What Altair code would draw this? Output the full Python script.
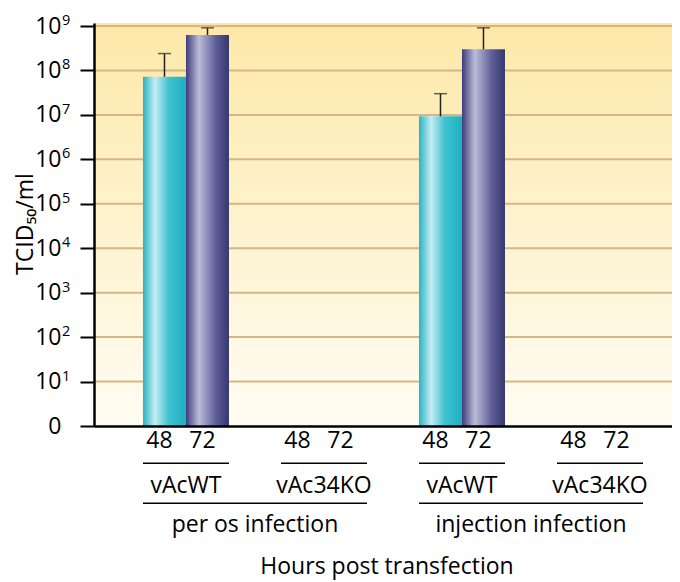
import altair as alt
import pandas as pd

# ---- data ----
routes = ["per os infection"] * 4 + ["injection infection"] * 4
viruses = ["vAcWT", "vAcWT", "vAc34KO", "vAc34KO"] * 2
hours = ["48", "72"] * 4
titer = [7.2e7, 6.3e8, 0, 0, 9.3e6, 3.0e8, 0, 0]          # TCID50/ml (0 = not detected)
upper = [2.4e8, 9.1e8, 0, 0, 3.0e7, 9.1e8, 0, 0]          # mean + SD
tick_exps = [0, 1, 2, 3, 4, 5, 6, 7, 8, 9]
route_order = ["per os infection", "injection infection"]
group_order = ["per os infection vAcWT", "per os infection vAc34KO",
               "injection infection vAcWT", "injection infection vAc34KO"]

df = pd.DataFrame({"route": routes, "virus": viruses, "hour": hours,
                   "titer": titer, "upper": upper})
df["group"] = df["route"] + " " + df["virus"]

W, H = 578, 403
YMAX = 9.0675
FONT = "Open Sans"
FS = 23

gscale = alt.Scale(type="band", domain=group_order, paddingInner=0.3768, paddingOuter=0.2826, align=0.628)
rscale = alt.Scale(type="band", domain=route_order, paddingInner=0.1884, paddingOuter=0.1413, align=0.628)
oscale = alt.Scale(type="band", domain=["48", "72"], paddingInner=0, paddingOuter=0)
yscale = alt.Scale(domain=[0, YMAX], nice=False, zero=False)

base = alt.Chart(df).transform_calculate(
    ly="datum.titer > 0 ? log(datum.titer)/LN10 : 0",
    lu="datum.upper > 0 ? log(datum.upper)/LN10 : 0",
)

one = alt.Chart(pd.DataFrame({"k": [1]}))

bg = one.mark_rect(
    color=alt.Gradient(gradient="linear", x1=0, y1=0, x2=0, y2=1,
                       stops=[alt.GradientStop(offset=0, color="#fde8a8"),
                              alt.GradientStop(offset=0.5, color="#fef3cf"),
                              alt.GradientStop(offset=1, color="#fffcf2")])
).encode(x=alt.value(0), x2=alt.value(W), y=alt.value(0), y2=alt.value(H))

yaxis = alt.Axis(values=tick_exps, grid=False, domainColor="black", domainWidth=2.5,
                 tickColor="black", tickWidth=2, tickSize=14, labelFontSize=FS,
                 labelFont=FONT, labelColor="black", labelPadding=19, title=None,
                 zindex=1,
                 labelExpr="datum.value == 0 ? '0' : '10'")

ticks_df = pd.DataFrame({"e": tick_exps})

grid = alt.Chart(ticks_df).transform_filter("datum.e > 0").mark_rule(
    color="#d8b582", strokeWidth=2
).encode(y=alt.Y("e:Q", scale=yscale, axis=yaxis), x=alt.value(0), x2=alt.value(W))

sup = alt.Chart(ticks_df).transform_filter("datum.e > 0").mark_text(
    font=FONT, fontSize=14.5, align="left", baseline="alphabetic", color="black", dy=-1
).encode(y=alt.Y("e:Q", scale=yscale), x=alt.value(-32), text="e:Q")

cyan = alt.Gradient(gradient="linear", x1=0, y1=0, x2=1, y2=0,
                    stops=[alt.GradientStop(offset=0, color="#28b3c4"),
                           alt.GradientStop(offset=0.28, color="#c6edf3"),
                           alt.GradientStop(offset=0.6, color="#3ec2d0"),
                           alt.GradientStop(offset=1, color="#1fb0c1")])
purple = alt.Gradient(gradient="linear", x1=0, y1=0, x2=1, y2=0,
                      stops=[alt.GradientStop(offset=0, color="#3c3c7c"),
                             alt.GradientStop(offset=0.3, color="#bcbcd8"),
                             alt.GradientStop(offset=0.7, color="#5d5d97"),
                             alt.GradientStop(offset=1, color="#37376f")])

xaxis = alt.Axis(labels=False, ticks=False, title=None, domainColor="black",
                 domainWidth=2.5, zindex=1, grid=False)

bars48 = base.transform_filter("datum.titer > 0 && datum.hour == '48'").mark_bar(color=cyan).encode(
    x=alt.X("group:N", scale=gscale, axis=xaxis),
    xOffset=alt.XOffset("hour:N", scale=oscale),
    y=alt.Y("ly:Q", scale=yscale),
    y2=alt.datum(0),
)
bars72 = base.transform_filter("datum.titer > 0 && datum.hour == '72'").mark_bar(color=purple).encode(
    x=alt.X("group:N", scale=gscale, axis=None),
    xOffset=alt.XOffset("hour:N", scale=oscale),
    y=alt.Y("ly:Q", scale=yscale),
    y2=alt.datum(0),
)

errs = base.transform_filter("datum.upper > 0")
err_rule = errs.mark_rule(color="#222222", strokeWidth=1.5).encode(
    x=alt.X("group:N", scale=gscale, axis=None),
    xOffset=alt.XOffset("hour:N", scale=oscale),
    y=alt.Y("ly:Q", scale=yscale),
    y2="lu:Q",
)
err_cap = errs.mark_tick(color="#222222", thickness=1.5, size=13, orient="horizontal").encode(
    x=alt.X("group:N", scale=gscale, axis=None),
    xOffset=alt.XOffset("hour:N", scale=oscale),
    y=alt.Y("lu:Q", scale=yscale),
)

hour_txt = base.mark_text(font=FONT, fontSize=FS, baseline="alphabetic", color="black", dx=-5).encode(
    x=alt.X("group:N", scale=gscale, axis=None),
    xOffset=alt.XOffset("hour:N", scale=oscale),
    y=alt.value(425),
    text="hour:N",
)
g_one = base.transform_filter("datum.hour == '48'")
line1 = g_one.mark_bar(color="black").encode(
    x=alt.X("group:N", scale=gscale, axis=None),
    y=alt.value(439.5), y2=alt.value(441),
)
virus_txt = g_one.mark_text(font=FONT, fontSize=FS, baseline="alphabetic", color="black").encode(
    x=alt.X("group:N", scale=gscale, axis=None),
    y=alt.value(470),
    text="virus:N",
)
r_one = base.transform_filter("datum.hour == '48' && datum.virus == 'vAcWT'")
line2 = r_one.mark_bar(color="black").encode(
    x=alt.X("route:N", scale=rscale, axis=None),
    y=alt.value(479.5), y2=alt.value(481),
)
route_txt = r_one.mark_text(font=FONT, fontSize=FS, baseline="alphabetic", color="black").encode(
    x=alt.X("route:N", scale=rscale, axis=None),
    y=alt.value(509),
    text="route:N",
)

xtitle = one.mark_text(font=FONT, fontSize=FS, baseline="alphabetic", color="black", align="center").encode(
    x=alt.value(293), y=alt.value(551), text=alt.value("Hours post transfection"))
ytitle = one.mark_text(font=FONT, fontSize=FS, baseline="middle", color="black", align="center", angle=270).encode(
    x=alt.value(-68), y=alt.value(201), text=alt.value("TCID₅₀/ml"))

chart = alt.layer(
    bg, grid, bars48, bars72, err_rule, err_cap, sup,
    hour_txt, line1, virus_txt, line2, route_txt, xtitle, ytitle,
).resolve_scale(x="independent").properties(
    width=W, height=H,
    autosize=alt.AutoSizeParams(type="none"),
    padding={"left": 86, "top": 15, "right": 0, "bottom": 156},
).configure_view(stroke=None)

chart.save("out.html", embed_options={"renderer": "svg", "actions": False})
